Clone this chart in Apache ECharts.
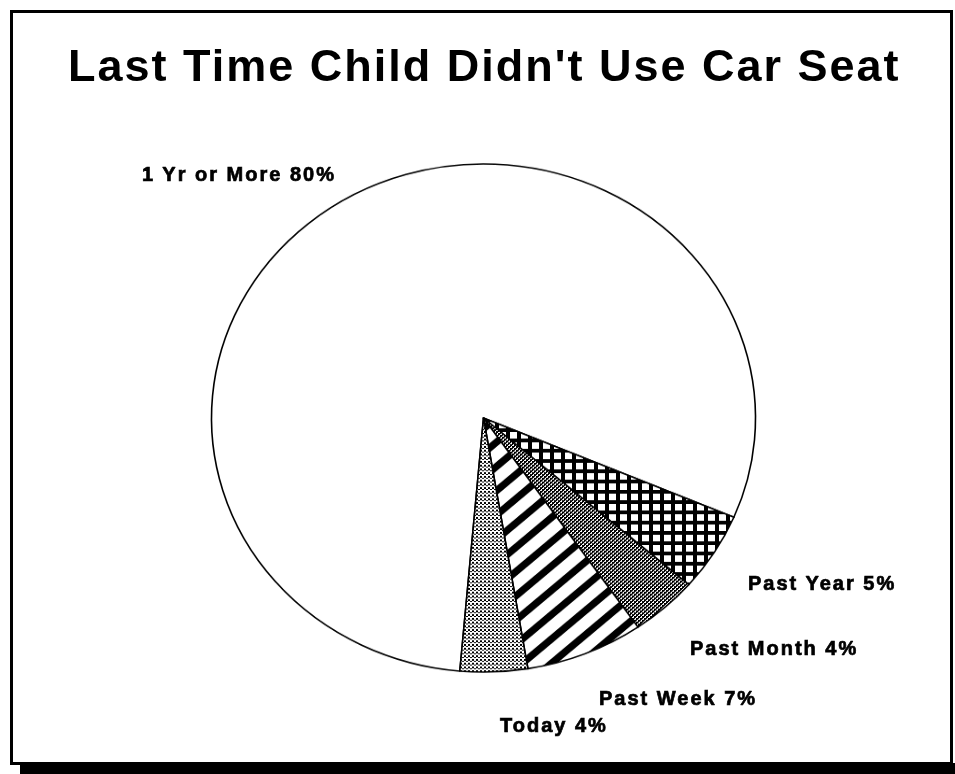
<!DOCTYPE html>
<html>
<head>
<meta charset="utf-8">
<script src="https://cdn.jsdelivr.net/npm/echarts@6/dist/echarts.min.js"></script>
<style>
  html, body { margin: 0; padding: 0; background: #fff; }
  #stage { position: relative; width: 955px; height: 774px; overflow: hidden; background: #fff; }
  #frame { position: absolute; left: 10px; top: 10px; width: 943px; height: 755px; box-sizing: border-box; border: 3px solid #000; }
  #shadow { position: absolute; left: 20px; top: 763px; width: 935px; height: 11px; background: #000; }
  /* the pie is drawn as a circle and squeezed vertically into an ellipse */
  #pie { position: absolute; left: 0; top: 0; width: 955px; height: 774px; transform-origin: 483.5px 418px; transform: scaleY(0.934); }
  #text { position: absolute; left: 0; top: 0; width: 955px; height: 774px; letter-spacing: 2px; }
</style>
</head>
<body>
<div id="stage">
  <div id="frame"></div>
  <div id="shadow"></div>
  <div id="pie"></div>
  <div id="text"></div>
</div>
<script>
// Survey answers: when the child last rode without a car seat
const categories = ['1 Yr or More', 'Past Year', 'Past Month', 'Past Week', 'Today'];
const percents = [80, 5, 4, 7, 4];
const chartTitle = "Last Time Child Didn't Use Car Seat";

// left edge / vertical middle of each slice label
const labelAnchors = [[142, 174], [748, 583], [690, 648], [599, 698], [500, 725]];

// monochrome fill patterns, one per slice
function tile(w, h, draw) {
  const c = document.createElement('canvas');
  c.width = w; c.height = h;
  const g = c.getContext('2d');
  g.fillStyle = '#fff'; g.fillRect(0, 0, w, h);
  g.fillStyle = '#000';
  draw(g, w, h);
  return c;
}
const crossHatch = tile(11, 11, g => { g.fillRect(0, 0, 11, 4); g.fillRect(0, 0, 4, 11); });
const denseDots = tile(4, 4, g => {
  g.fillRect(0, 0, 2, 2); g.fillRect(2, 2, 2, 2);
  g.fillRect(2, 0, 1, 1); g.fillRect(0, 2, 1, 1);
});
const lightDots = tile(4, 4, g => { g.fillRect(0, 0, 2, 2); g.fillRect(2, 2, 2, 1); });
const diagonal = tile(29, 26, (g, W, H) => {
  const t = 10;
  for (let k = -1; k <= 1; k++) {
    g.beginPath();
    g.moveTo(0, (k + 1) * H); g.lineTo(W, k * H);
    g.lineTo(W, k * H + t); g.lineTo(0, (k + 1) * H + t);
    g.closePath(); g.fill();
  }
});
const fills = ['#ffffff',
  { image: crossHatch, repeat: 'repeat' },
  { image: denseDots, repeat: 'repeat' },
  { image: diagonal, repeat: 'repeat' },
  { image: lightDots, repeat: 'repeat' }];

const slices = categories.map((name, i) => ({ name, value: percents[i] }));

// slices
const pieChart = echarts.init(document.getElementById('pie'), null, { renderer: 'canvas' });
pieChart.setOption({
  animation: false,
  series: [{
    type: 'pie',
    center: [483.5, 418],
    radius: 272,
    startAngle: 265,
    clockwise: true,
    silent: true,
    label: { show: false },
    labelLine: { show: false },
    data: slices.map((d, i) => ({
      name: d.name, value: d.value,
      itemStyle: { color: fills[i], borderColor: '#000', borderWidth: 1.6 }
    }))
  }]
});

// title and slice labels
const textChart = echarts.init(document.getElementById('text'), null, { renderer: 'svg' });
const font = { fontFamily: 'Liberation Sans', fontWeight: 'bold', color: '#000' };
textChart.setOption({
  animation: false,
  title: {
    text: chartTitle,
    left: 63, top: 38,
    textStyle: Object.assign({ fontSize: 45 }, font)
  },
  series: [{
    type: 'pie',
    center: [483.5, 418],
    radius: 272,
    startAngle: 265,
    clockwise: true,
    silent: true,
    itemStyle: { color: 'rgba(0,0,0,0)', borderWidth: 0 },
    label: Object.assign({
      show: true, position: 'outside', fontSize: 20, formatter: '{b} {c}%',
      textBorderColor: '#000', textBorderWidth: 0.7
    }, font),
    labelLine: { show: false },
    labelLayout: p => ({
      x: labelAnchors[p.dataIndex][0],
      y: labelAnchors[p.dataIndex][1],
      align: 'left',
      verticalAlign: 'middle'
    }),
    data: slices
  }]
});
</script>
</body>
</html>
